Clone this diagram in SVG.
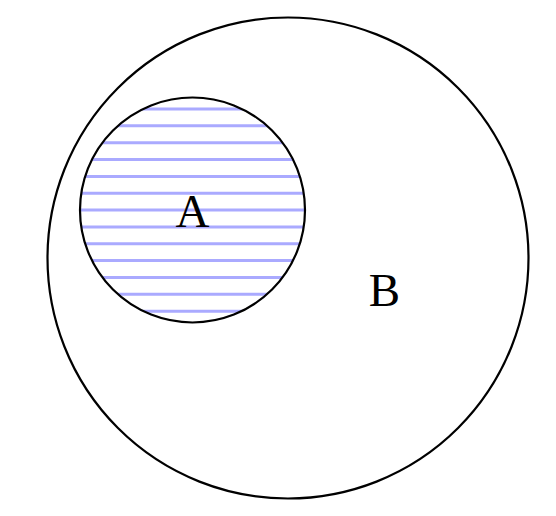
<svg xmlns="http://www.w3.org/2000/svg" width="556" height="516" viewBox="0 0 556 516">
<style>
.c{fill:none;stroke:#000;stroke-width:2.2}
.h{stroke:#aaaaff;stroke-width:3}
.t{font-family:"Liberation Serif","Times New Roman",serif;font-size:47px;fill:#000;text-anchor:middle}
</style>
<defs>
<clipPath id="clipA"><circle cx="192.5" cy="210" r="112.5"/></clipPath>
</defs>
<rect width="556" height="516" fill="#fff"/>
<g id="B">
<circle class="c" cx="288" cy="258" r="240.5"/>
<text class="t" x="384.5" y="305.5">B</text>
</g>
<g id="A">
<g clip-path="url(#clipA)">
<line class="h" x1="70" x2="320" y1="109" y2="109"/>
<line class="h" x1="70" x2="320" y1="125.8" y2="125.8"/>
<line class="h" x1="70" x2="320" y1="142.7" y2="142.7"/>
<line class="h" x1="70" x2="320" y1="159.5" y2="159.5"/>
<line class="h" x1="70" x2="320" y1="176.4" y2="176.4"/>
<line class="h" x1="70" x2="320" y1="193.2" y2="193.2"/>
<line class="h" x1="70" x2="320" y1="210.1" y2="210.1"/>
<line class="h" x1="70" x2="320" y1="226.9" y2="226.9"/>
<line class="h" x1="70" x2="320" y1="243.8" y2="243.8"/>
<line class="h" x1="70" x2="320" y1="260.6" y2="260.6"/>
<line class="h" x1="70" x2="320" y1="277.5" y2="277.5"/>
<line class="h" x1="70" x2="320" y1="294.3" y2="294.3"/>
<line class="h" x1="70" x2="320" y1="311.2" y2="311.2"/>
</g>
<circle class="c" cx="192.5" cy="210" r="112.5"/>
<text class="t" x="192.5" y="226.5">A</text>
</g>
</svg>
